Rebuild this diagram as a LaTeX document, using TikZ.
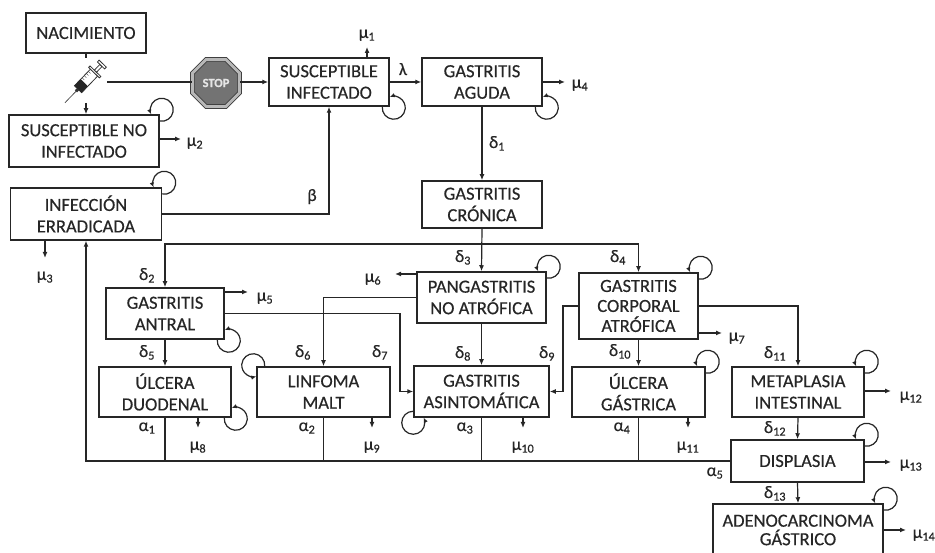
\documentclass[tikz,border=0pt]{standalone}
\usepackage{fontspec}
\setmainfont{Carlito}[FakeBold=0.45]
\usetikzlibrary{arrows.meta,shapes.geometric}

\newcommand{\lazoNE}[1]{\draw[lazo] ([shift={(2,4.5)}]#1.north east) ++(-100:11.5) arc[start angle=-100,end angle=203,radius=11.5];}
\newcommand{\lazoSE}[1]{\draw[lazo] ([shift={(4,-1)}]#1.south east) ++(175:11.5) arc[start angle=175,end angle=470,radius=11.5];}
\newcommand{\lazoNW}[1]{\draw[lazo] ([shift={(-3,1)}]#1.north west) ++(-5:11.5) arc[start angle=-5,end angle=285,radius=11.5];}
\newcommand{\lazoSW}[1]{\draw[lazo] ([shift={(0,-5)}]#1.south west) ++(90:11.5) arc[start angle=90,end angle=386,radius=11.5];}

\begin{document}
\begin{tikzpicture}[x=1pt,y=1pt,
  caja/.style 2 args={draw=black!85,line width=1.5pt,text=black!85,align=center,inner sep=0pt,
    minimum width=#1pt,minimum height=#2pt,font=\fontsize{18.5}{21.5}\selectfont},
  etq/.style={text=black!85,inner sep=0pt,text height=9pt,text depth=3pt,font=\fontsize{17.5}{20}\selectfont},
  flecha/.style={line width=1.2pt,draw=black!85,-{Latex[length=6pt,width=5pt]}},
  linea/.style={line width=1.2pt,draw=black!85},
  lazo/.style={line width=1.2pt,draw=black!85,-{Latex[length=5pt,width=4.5pt]}},
  pare/.style={regular polygon,regular polygon sides=8,minimum size=51pt,inner sep=0pt,
    draw=black!75,line width=0.9pt,double=black!28,double distance=2.8pt,fill=black!55,
    text=black!10,font=\bfseries\fontsize{12.5}{12.5}\selectfont}]
\useasboundingbox (0,0) rectangle (935,553);

\node[caja={120}{40}] (nac) at (86,520) {NACIMIENTO};
\node[caja={120}{48}] (si) at (329,471) {SUSCEPTIBLE\\INFECTADO};
\node[caja={120}{48}] (ga) at (482,471) {GASTRITIS\\AGUDA};
\node[caja={150}{52}] (sni) at (84,412) {SUSCEPTIBLE NO\\INFECTADO};
\node[caja={151}{52}] (ie) at (86,339) {INFECCIÓN\\ERRADICADA};
\node[caja={120}{47}] (gc) at (482,348.5) {GASTRITIS\\CRÓNICA};
\node[caja={129}{51}] (pna) at (481.5,255.5) {PANGASTRITIS\\NO ATRÓFICA};
\node[caja={119}{66},font=\fontsize{18.5}{20}\selectfont] (gca) at (638.5,247) {GASTRITIS\\CORPORAL\\ATRÓFICA};
\node[caja={118}{51}] (gan) at (165,239.5) {GASTRITIS\\ANTRAL};
\node[caja={132}{50}] (ud) at (165,161) {ÚLCERA\\DUODENAL};
\node[caja={133}{50}] (lm) at (323.5,161) {LINFOMA\\MALT};
\node[caja={135}{51}] (gas) at (481.5,161.5) {GASTRITIS\\ASINTOMÁTICA};
\node[caja={133}{50}] (ug) at (638.5,161) {ÚLCERA\\GÁSTRICA};
\node[caja={132}{50}] (mi) at (798,161) {METAPLASIA\\INTESTINAL};
\node[caja={133}{42}] (dis) at (797.5,92) {DISPLASIA};
\node[caja={170}{52},font=\fontsize{18.5}{18.5}\selectfont] (ade) at (798,23) {ADENOCARCINOMA\\GÁSTRICO};

\node[pare] (stop) at (216,470) {STOP};

\begin{scope}[shift={(85,471)},rotate=46]
\draw[line width=0.6pt,black!80] (-29,0) -- (-13,0);
\fill[black!80] (-13,-1.5) rectangle (-10,1.5);
\draw[line width=0.8pt,black!80,fill=white] (-10,-5) rectangle (13,5);
\fill[black!85] (-10,-5) rectangle (-1,5);
\foreach \t in {1,4,7,10}
  \draw[line width=0.4pt,black!80] (\t,5) -- (\t,2);
\draw[line width=0.8pt,black!80,fill=white] (13,-7.5) rectangle (15,7.5);
\draw[line width=0.8pt,black!80,fill=white] (15,-1.5) rectangle (23,1.5);
\draw[line width=0.8pt,black!80,fill=white] (23,-5) rectangle (25.5,5);
\end{scope}
\coordinate (jerA) at (86,495);
\coordinate (jerB) at (86,450);
\coordinate (jerD) at (107,471);

\node[etq] (m1) at (367,518) {μ\textsubscript{1}};
\node[etq] (lam) at (403,481) {λ};
\node[etq] (m4) at (580,468) {μ\textsubscript{4}};
\node[etq] (d1) at (497,408) {δ\textsubscript{1}};
\node[etq] (m2) at (195,410) {μ\textsubscript{2}};
\node[etq] (bet) at (312,355) {β};
\node[etq] (m3) at (45,276) {μ\textsubscript{3}};
\node[etq] (d2) at (147,276) {δ\textsubscript{2}};
\node[etq] (d3) at (463,294) {δ\textsubscript{3}};
\node[etq] (d4) at (618,294) {δ\textsubscript{4}};
\node[etq] (m5) at (265,255) {μ\textsubscript{5}};
\node[etq] (m6) at (373,274) {μ\textsubscript{6}};
\node[etq] (d5) at (147,199) {δ\textsubscript{5}};
\node[etq] (d6) at (303,199) {δ\textsubscript{6}};
\node[etq] (d7) at (380,199) {δ\textsubscript{7}};
\node[etq] (d8) at (463,198) {δ\textsubscript{8}};
\node[etq] (d9) at (547,198) {δ\textsubscript{9}};
\node[etq] (d10) at (620,200) {δ\textsubscript{10}};
\node[etq] (d11) at (775,198) {δ\textsubscript{11}};
\node[etq] (m7) at (737,215) {μ\textsubscript{7}};
\node[etq] (d12) at (775,123) {δ\textsubscript{12}};
\node[etq] (m12) at (911,156) {μ\textsubscript{12}};
\node[etq] (m13) at (911,88) {μ\textsubscript{13}};
\node[etq] (a5) at (715,80) {α\textsubscript{5}};
\node[etq] (d13) at (775,58) {δ\textsubscript{13}};
\node[etq] (m14) at (924,18) {μ\textsubscript{14}};
\node[etq] (a1) at (147,125) {α\textsubscript{1}};
\node[etq] (a2) at (307,125) {α\textsubscript{2}};
\node[etq] (a3) at (465,125) {α\textsubscript{3}};
\node[etq] (a4) at (622,125) {α\textsubscript{4}};
\node[etq] (m8) at (198,106) {μ\textsubscript{8}};
\node[etq] (m9) at (372,106) {μ\textsubscript{9}};
\node[etq] (m10) at (523,106) {μ\textsubscript{10}};
\node[etq] (m11) at (688,106) {μ\textsubscript{11}};

\coordinate (pm1) at (367,506);
\coordinate (pm2) at (181,414);
\coordinate (pm3) at (45,295);
\coordinate (pm4) at (565,471);
\coordinate (pm5) at (248,261);
\coordinate (pm6) at (395,279);
\coordinate (pm7) at (722,220);
\coordinate (pm8) at (198,125);
\coordinate (pm9) at (372,125);
\coordinate (pm10) at (523,125);
\coordinate (pm11) at (688,125);
\coordinate (pm12) at (891,162);
\coordinate (pm13) at (891,91);
\coordinate (pm14) at (906,23);
\coordinate (ramal) at (482,309);
\coordinate (c7) at (400,0);
\coordinate (c9) at (563,0);

\draw[linea] (nac.south) -- (jerA);
\draw[flecha] (jerB) -- (jerB |- sni.north);
\draw[linea] (jerD) -- (jerD -| stop.west);
\draw[flecha] (stop.east |- si.west) -- (si.west);
\draw[flecha] (si.east) -- (ga.west);
\draw[flecha] (ga.south) -- (gc.north);
\draw[flecha] (ie.east) -| (si.south);
\draw[flecha] (gc.south) -- (pna.north);
\draw[flecha] (ramal) -| (gan.north);
\draw[flecha] (ramal) -| (gca.north);
\draw[flecha] (gan.south) -- (ud.north);
\draw[flecha] (pna.west) -| (lm.north);
\draw[flecha] (gan.east) -| (c7 |- gas.west) -- (gas.west);
\draw[flecha] (pna.south) -- (gas.north);
\draw[flecha] (gca.west) -| (c9 |- gas.east) -- (gas.east);
\draw[flecha] (gca.south) -- (ug.north);
\draw[flecha] (gca.east) -| (mi.north);
\draw[flecha] (mi.south) -- (dis.north);
\draw[flecha] (dis.south) -- (ade.north);
\draw[flecha] (dis.west) -| (ie.south);
\foreach \c in {ud,lm,gas,ug}
  \draw[linea] (\c.south) -- (\c.south |- dis.west);

\draw[flecha] (pm1 |- si.north) -- (pm1);
\draw[flecha] (pm2 -| sni.east) -- (pm2);
\draw[flecha] (pm3 |- ie.south) -- (pm3);
\draw[flecha] (pm4 -| ga.east) -- (pm4);
\draw[flecha] (pm5 -| gan.east) -- (pm5);
\draw[flecha] (pm6 -| pna.west) -- (pm6);
\draw[flecha] (pm7 -| gca.east) -- (pm7);
\foreach \c/\p in {ud/pm8,lm/pm9,gas/pm10,ug/pm11}
  \draw[flecha] (\p |- \c.south) -- (\p);
\draw[flecha] (pm12 -| mi.east) -- (pm12);
\draw[flecha] (pm13 -| dis.east) -- (pm13);
\draw[flecha] (pm14 -| ade.east) -- (pm14);

\lazoNE{sni}
\lazoNE{ie}
\lazoSE{si}
\lazoSE{ga}
\lazoNE{pna}
\lazoNE{gca}
\lazoSE{gan}
\lazoSE{ud}
\lazoNW{lm}
\lazoSW{gas}
\lazoNE{ug}
\lazoNE{mi}
\lazoNE{dis}
\lazoNE{ade}
\end{tikzpicture}
\end{document}
